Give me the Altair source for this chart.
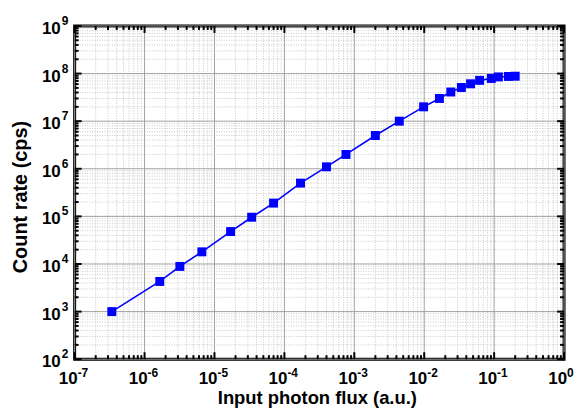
import altair as alt
import pandas as pd

# ---- data ----
flux = [3.4e-7, 1.65e-6, 3.2e-6, 6.6e-6, 1.7e-5, 3.4e-5, 7.0e-5, 1.7e-4, 4.0e-4,
        7.6e-4, 2.0e-3, 4.4e-3, 9.8e-3, 1.65e-2, 2.4e-2, 3.4e-2, 4.6e-2, 6.2e-2,
        9.1e-2, 0.115, 0.16, 0.2]
rate = [1.0e3, 4.3e3, 8.9e3, 1.8e4, 4.8e4, 9.6e4, 1.9e5, 5.0e5, 1.1e6,
        2.0e6, 5.0e6, 1.0e7, 2.0e7, 3.0e7, 4.1e7, 5.1e7, 6.1e7, 7.2e7,
        7.9e7, 8.5e7, 8.7e7, 8.8e7]

x_exps = list(range(-7, 1))
y_exps = list(range(2, 10))
minor_mult = [2, 3, 4, 5, 6, 7, 8, 9]
x_title = "Input photon flux (a.u.)"
y_title = "Count rate (cps)"

W, H = 492, 335
FONT = "Liberation Sans"
BLUE = "#0000FF"

x_major = [10.0 ** e for e in x_exps]
x_minor = [m * 10.0 ** e for e in x_exps[:-1] for m in minor_mult]
y_major = [10.0 ** e for e in y_exps]
y_minor = [m * 10.0 ** e for e in y_exps[:-1] for m in minor_mult]

xs = alt.Scale(type="log", domain=[1e-7, 1], nice=False)
ys = alt.Scale(type="log", domain=[1e2, 1e9], nice=False)

df = pd.DataFrame({"flux": flux, "rate": rate})
xmaj = pd.DataFrame({"v": x_major, "base": ["10"] * len(x_exps), "exp": [str(e) for e in x_exps]})
ymaj = pd.DataFrame({"v": y_major, "base": ["10"] * len(y_exps), "exp": [str(e) for e in y_exps]})
xmin = pd.DataFrame({"v": x_minor})
ymin = pd.DataFrame({"v": y_minor})


def vrules(data, color, width, dash=None, y=0, y2=H):
    kw = dict(color=color, strokeWidth=width)
    if dash:
        kw["strokeDash"] = dash
    return alt.Chart(data).mark_rule(**kw).encode(
        x=alt.X("v:Q", scale=xs, axis=None), y=alt.value(y), y2=alt.value(y2))


def hrules(data, color, width, dash=None, x=0, x2=W):
    kw = dict(color=color, strokeWidth=width)
    if dash:
        kw["strokeDash"] = dash
    return alt.Chart(data).mark_rule(**kw).encode(
        y=alt.Y("v:Q", scale=ys, axis=None), x=alt.value(x), x2=alt.value(x2))


layers = []
# grid
layers.append(vrules(xmin, "#c8c8c8", 1, [1, 1.5]))
layers.append(hrules(ymin, "#c8c8c8", 1, [1, 1.5]))
layers.append(vrules(xmaj, "#a0a0a0", 1))
layers.append(hrules(ymaj, "#a0a0a0", 1))

# data
line = alt.Chart(df).mark_line(color=BLUE, strokeWidth=1.6).encode(
    x=alt.X("flux:Q", scale=xs, axis=None),
    y=alt.Y("rate:Q", scale=ys, axis=None),
)
pts = alt.Chart(df).mark_point(shape="square", filled=True, size=81, color=BLUE, opacity=1).encode(
    x=alt.X("flux:Q", scale=xs, axis=None), y=alt.Y("rate:Q", scale=ys, axis=None))
layers += [line, pts]

# inward ticks on all four sides
MAJ, MIN, TW = 7, 4, 2
layers.append(vrules(xmaj, "black", TW, y=H, y2=H - MAJ))
layers.append(vrules(xmin, "black", TW, y=H, y2=H - MIN))
layers.append(vrules(xmaj, "black", TW, y=0, y2=MAJ))
layers.append(vrules(xmin, "black", TW, y=0, y2=MIN))
layers.append(hrules(ymaj, "black", TW, x=0, x2=MAJ))
layers.append(hrules(ymin, "black", TW, x=0, x2=MIN))
layers.append(hrules(ymaj, "black", TW, x=W, x2=W - MAJ))
layers.append(hrules(ymin, "black", TW, x=W, x2=W - MIN))

# tick labels (10 with superscript exponent)
layers.append(alt.Chart(xmaj).mark_text(font=FONT, fontSize=17, fontWeight="bold", color="black",
                                        align="right", baseline="alphabetic", dx=3).encode(
    x=alt.X("v:Q", scale=xs, axis=None), y=alt.value(H + 25), text="base:N"))
layers.append(alt.Chart(xmaj).mark_text(font=FONT, fontSize=12, fontWeight="bold", color="black",
                                        align="left", baseline="alphabetic", dx=3).encode(
    x=alt.X("v:Q", scale=xs, axis=None), y=alt.value(H + 18), text="exp:N"))
layers.append(alt.Chart(ymaj).mark_text(font=FONT, fontSize=17, fontWeight="bold", color="black",
                                        align="right", baseline="alphabetic", dy=8).encode(
    y=alt.Y("v:Q", scale=ys, axis=None), x=alt.value(-14), text="base:N"))
layers.append(alt.Chart(ymaj).mark_text(font=FONT, fontSize=12, fontWeight="bold", color="black",
                                        align="left", baseline="alphabetic", dy=-1).encode(
    y=alt.Y("v:Q", scale=ys, axis=None), x=alt.value(-13), text="exp:N"))

# axis titles
layers.append(alt.Chart(pd.DataFrame({"t": [x_title]})).mark_text(
    font=FONT, fontSize=18.5, fontWeight="bold", color="black",
    align="center", baseline="alphabetic").encode(
    x=alt.value(244), y=alt.value(H + 45), text="t:N"))
layers.append(alt.Chart(pd.DataFrame({"t": [y_title]})).mark_text(
    font=FONT, fontSize=20, fontWeight="bold", color="black", angle=270,
    align="center", baseline="middle").encode(
    x=alt.value(-54), y=alt.value(172), text="t:N"))

chart = alt.layer(*layers).properties(
    width=W, height=H,
    autosize=alt.AutoSizeParams(type="none"),
    padding={"left": 67, "top": 17, "right": 10, "bottom": 48},
    background="white",
).configure_view(stroke="black", strokeWidth=3)

chart.save("out.html", embed_options={"renderer": "svg", "actions": False})
